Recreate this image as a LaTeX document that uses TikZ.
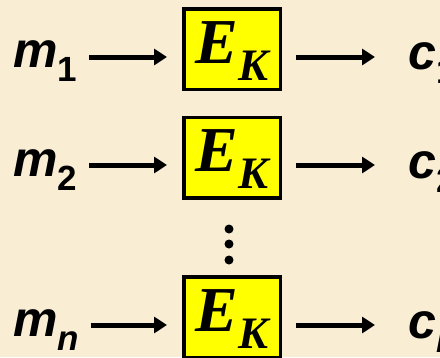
\documentclass[tikz,border=0pt]{standalone}
\usepackage{fontspec}
\setmainfont{Liberation Serif}
\newfontfamily\arialfont{Liberation Sans}
\usetikzlibrary{arrows.meta}
\definecolor{paper}{RGB}{249,238,212}
\definecolor{boxyellow}{RGB}{255,255,0}
\newcommand{\lowsub}[1]{\raisebox{-14pt}{\fontsize{35}{35}\selectfont #1}}
\newcommand{\ek}{{\fontsize{64}{64}\selectfont\bfseries\itshape E\raisebox{-17pt}{\fontsize{45}{45}\selectfont K}}}
\begin{document}
\begin{tikzpicture}[x=1pt,y=-1pt,
  enc/.style={draw=black,line width=3.5pt,fill=boxyellow,minimum width=96.5pt,minimum height=80.5pt,inner sep=0pt,text height=43pt,text depth=15pt},
  lbl/.style={anchor=base west,inner sep=0pt,font=\arialfont\bfseries\itshape\fontsize{50}{50}\selectfont},
  arr/.style={line width=5pt,-{Triangle[length=13pt,width=16pt]}},
  inarr/.style={arr,shorten <=12pt,shorten >=15pt},
  outarr/.style={arr,shorten <=14pt,shorten >=33pt}]
\fill[paper] (0,0) rectangle (440,357);
\clip (0,0) rectangle (440,357);

\node[enc] (b1) at (232,49) {\ek};
\node[lbl] (m1) at (13,67) {m\lowsub{\upshape 1}};
\node[lbl] (c1) at (408,69) {c\lowsub{\upshape 1}};
\coordinate (a1) at (232,57);

\node[enc] (b2) at (232,157.5) {\ek};
\node[lbl] (m2) at (13,176) {m\lowsub{\upshape 2}};
\node[lbl] (c2) at (408,178) {c\lowsub{\upshape 2}};
\coordinate (a2) at (232,165);

\node[enc] (bn) at (232,317) {\ek};
\node[lbl] (mn) at (13,336) {m\lowsub{n}};
\node[lbl] (cn) at (408,338) {c\lowsub{n}};
\coordinate (an) at (232,325);

\draw[inarr] (m1.east |- a1) -- (b1.west |- a1);
\draw[outarr] (b1.east |- a1) -- (c1.west |- a1);
\draw[inarr] (m2.east |- a2) -- (b2.west |- a2);
\draw[outarr] (b2.east |- a2) -- (c2.west |- a2);
\draw[inarr] (mn.east |- an) -- (bn.west |- an);
\draw[outarr] (bn.east |- an) -- (cn.west |- an);

\foreach \y in {229,244,260}
  \fill (229,\y) circle (4.5);
\end{tikzpicture}
\end{document}
